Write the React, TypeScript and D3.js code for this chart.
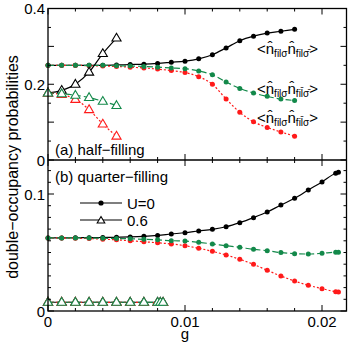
import React from "react";
import * as d3 from "d3";

// g values for the U=0 curves (filled circles)
const gTop = [0, 0.001, 0.002, 0.003, 0.004, 0.005, 0.006, 0.007, 0.008, 0.009, 0.01, 0.011, 0.012, 0.013, 0.014, 0.015, 0.016, 0.017, 0.018];
const topBlack = [0.25, 0.25, 0.25, 0.25, 0.25, 0.251, 0.252, 0.253, 0.255, 0.258, 0.261, 0.267, 0.278, 0.296, 0.315, 0.327, 0.335, 0.34, 0.345];
const topGreen = [0.25, 0.25, 0.25, 0.25, 0.25, 0.249, 0.248, 0.247, 0.245, 0.243, 0.241, 0.235, 0.225, 0.206, 0.189, 0.177, 0.168, 0.161, 0.157];
const topRed = [0.25, 0.25, 0.25, 0.249, 0.248, 0.247, 0.245, 0.243, 0.24, 0.236, 0.231, 0.22, 0.2, 0.161, 0.126, 0.101, 0.086, 0.074, 0.063];

// U=0.6 (open triangles), half filling
const gTopTri = [0, 0.001, 0.002, 0.003, 0.004, 0.005];
const topTriBlack = [0.177, 0.184, 0.2, 0.232, 0.281, 0.322];
const topTriGreen = [0.177, 0.175, 0.171, 0.165, 0.155, 0.144];
const topTriRed = [0.177, 0.173, 0.16, 0.133, 0.095, 0.063];

// quarter filling
const gBot = [0, 0.001, 0.002, 0.003, 0.004, 0.005, 0.006, 0.007, 0.008, 0.009, 0.01, 0.011, 0.012, 0.013, 0.014, 0.015, 0.016, 0.017, 0.018, 0.019, 0.02, 0.021, 0.0212];
const botBlack = [0.0625, 0.0625, 0.0626, 0.0627, 0.0628, 0.063, 0.0633, 0.0638, 0.0646, 0.0658, 0.0669, 0.0684, 0.0698, 0.072, 0.0755, 0.0798, 0.0846, 0.0906, 0.0963, 0.1034, 0.1103, 0.1177, 0.1185];
const botGreen = [0.0625, 0.0625, 0.0625, 0.0624, 0.0622, 0.062, 0.0617, 0.0613, 0.0608, 0.0601, 0.0598, 0.0587, 0.0573, 0.0558, 0.0544, 0.0527, 0.0516, 0.0499, 0.049, 0.0487, 0.0493, 0.0502, 0.0502];
const botRed = [0.0625, 0.0624, 0.0622, 0.0619, 0.0614, 0.0608, 0.06, 0.0592, 0.0583, 0.0573, 0.0558, 0.0536, 0.051, 0.0479, 0.0442, 0.0399, 0.0348, 0.0299, 0.0256, 0.022, 0.0191, 0.0165, 0.0162];

const gBotTri = [0, 0.001, 0.002, 0.003, 0.004, 0.005, 0.006, 0.007, 0.008, 0.0082, 0.0084];
const botTriBlack = [0.0075, 0.0075, 0.0075, 0.0075, 0.0075, 0.0075, 0.0075, 0.0075, 0.0075, 0.0075, 0.0075];
const botTriGreen = [0.0075, 0.0075, 0.0075, 0.0075, 0.0075, 0.0075, 0.0075, 0.0075, 0.0074, 0.0074, 0.0074];
const botTriRed = [0.0075, 0.0075, 0.0075, 0.0074, 0.0074, 0.0074, 0.0073, 0.0073, 0.0072, 0.0072, 0.0072];

const topYTicks = [0, 0.2, 0.4];
const botYTicks = [0, 0.1];
const xTicks = [0, 0.01, 0.02];

const BLACK = "#000";
const GREEN = "#13894a";
const RED = "#ff1a1a";
const FONT = "'Liberation Sans', Arial, sans-serif";

const L = 48, R = 346.5, T = 8.5, MID = 160, B = 311;

const x = d3.scaleLinear().domain([0, 0.01]).range([L, L + 137]);
const yTop = d3.scaleLinear().domain([0, 0.4]).range([MID, T]);
const yBot = d3.scaleLinear().domain([0, 0.1]).range([B, 194]);

const triPath = (cx: number, cy: number, s = 4.8) =>
  `M${cx},${cy - s}L${cx + s * 0.95},${cy + s * 0.62}L${cx - s * 0.95},${cy + s * 0.62}Z`;

type SeriesProps = {
  xs: number[];
  ys: number[];
  y: d3.ScaleLinear<number, number>;
  color: string;
  dash?: string;
  tri?: boolean;
};

const Series = ({ xs, ys, y, color, dash, tri }: SeriesProps) => {
  const pts: [number, number][] = xs.map((g, i) => [x(g), y(ys[i])]);
  const line = d3.line().curve(d3.curveMonotoneX)(pts) || "";
  return (
    <g>
      <path d={line} fill="none" stroke={color} strokeWidth={1.2} strokeDasharray={dash} />
      {pts.map(([px, py], i) =>
        tri ? (
          <path key={i} d={triPath(px, py)} fill="#fff" stroke={color} strokeWidth={1.1} />
        ) : (
          <circle key={i} cx={px} cy={py} r={2.5} fill={color} />
        )
      )}
    </g>
  );
};

const Label = ({ px, py, sub1, sub2 }: { px: number; py: number; sub1: string; sub2: string }) => (
  <text x={px} y={py} fontFamily={FONT} fontSize={15} fill="#000">
    <tspan>&lt;n̂</tspan>
    <tspan fontSize={10} dy={3}>{sub1}</tspan>
    <tspan dy={-3}>n̂</tspan>
    <tspan fontSize={10} dy={3}>{sub2}</tspan>
    <tspan dy={-3}>&gt;</tspan>
  </text>
);

export default function App() {
  const minorX = d3.range(0, 0.0219, 0.002);
  const minorYTop = d3.range(0, 0.401, 0.05);
  const minorYBot = d3.range(0, 0.129, 0.01);
  const tick = { stroke: "#000", strokeWidth: 1 };

  return (
    <svg width={353} height={344} style={{ position: "absolute", left: 0, top: 0 }}>
      <rect width={353} height={344} fill="#fff" />

      {/* panel (a) */}
      <Series xs={gTop} ys={topBlack} y={yTop} color={BLACK} />
      <Series xs={gTop} ys={topRed} y={yTop} color={RED} dash="2,2" />
      <Series xs={gTop} ys={topGreen} y={yTop} color={GREEN} dash="6,3" />
      <Series xs={gTopTri} ys={topTriBlack} y={yTop} color={BLACK} tri />
      <Series xs={gTopTri} ys={topTriRed} y={yTop} color={RED} dash="2,2" tri />
      <Series xs={gTopTri} ys={topTriGreen} y={yTop} color={GREEN} dash="6,3" tri />

      {/* panel (b) */}
      <Series xs={gBot} ys={botBlack} y={yBot} color={BLACK} />
      <Series xs={gBot} ys={botRed} y={yBot} color={RED} dash="2,2" />
      <Series xs={gBot} ys={botGreen} y={yBot} color={GREEN} dash="6,3" />
      <Series xs={gBotTri} ys={botTriBlack} y={yBot} color={BLACK} tri />
      <Series xs={gBotTri} ys={botTriRed} y={yBot} color={RED} dash="2,2" tri />
      <Series xs={gBotTri} ys={botTriGreen} y={yBot} color={GREEN} dash="6,3" tri />

      {/* frames */}
      <rect x={L} y={T} width={R - L} height={B - T} fill="none" stroke="#000" strokeWidth={1.3} />
      <line x1={L} x2={R} y1={MID} y2={MID} stroke="#000" strokeWidth={1.3} />

      {/* x ticks */}
      {minorX.map((g, i) => {
        const major = i % 5 === 0;
        const len = major ? 6 : 3;
        const px = x(g);
        return (
          <g key={i}>
            <line x1={px} x2={px} y1={T} y2={T + len} {...tick} />
            <line x1={px} x2={px} y1={MID} y2={MID - len} {...tick} />
            <line x1={px} x2={px} y1={MID} y2={MID + len} {...tick} />
            <line x1={px} x2={px} y1={B} y2={B - len} {...tick} />
          </g>
        );
      })}
      {/* y ticks */}
      {minorYTop.map((v, i) => {
        const len = i % 2 === 0 ? 6 : 3;
        const py = yTop(v);
        return (
          <g key={"t" + i}>
            <line x1={L} x2={L + len} y1={py} y2={py} {...tick} />
            <line x1={R} x2={R - len} y1={py} y2={py} {...tick} />
          </g>
        );
      })}
      {minorYBot.map((v, i) => {
        const len = i % 10 === 0 ? 6 : 3;
        const py = yBot(v);
        return (
          <g key={"b" + i}>
            <line x1={L} x2={L + len} y1={py} y2={py} {...tick} />
            <line x1={R} x2={R - len} y1={py} y2={py} {...tick} />
          </g>
        );
      })}

      {/* tick labels */}
      <g fontFamily={FONT} fontSize={15} fill="#000">
        {topYTicks.map((v) => (
          <text key={"ty" + v} x={L - 3} y={yTop(v) + 5.5} textAnchor="end">{v === 0 ? "0" : v.toString()}</text>
        ))}
        {botYTicks.map((v) => (
          <text key={"by" + v} x={L - 3} y={yBot(v) + 5.5} textAnchor="end">{v === 0 ? "0" : v.toString()}</text>
        ))}
        {xTicks.map((v) => (
          <text key={"x" + v} x={x(v)} y={B + 16} textAnchor="middle">{v === 0 ? "0" : v.toString()}</text>
        ))}
        <text x={x(0.01)} y={B + 28} textAnchor="middle">g</text>
        <text transform={`translate(18,167) rotate(-90)`} textAnchor="middle" fontSize={16}>double−occupancy probabilities</text>
        <text x={55} y={155}>(a) half−filling</text>
        <text x={55} y={182}>(b) quarter−filling</text>
      </g>

      {/* legend */}
      <g fontFamily={FONT} fontSize={15}>
        <line x1={80} x2={122} y1={203} y2={203} stroke="#000" strokeWidth={1.2} />
        <circle cx={101} cy={203} r={2.6} fill="#000" />
        <text x={127} y={208.5}>U=0</text>
        <line x1={80} x2={122} y1={220} y2={220} stroke="#000" strokeWidth={1.2} />
        <path d={triPath(101, 220.5, 4)} fill="#fff" stroke="#000" strokeWidth={1.1} />
        <text x={127} y={225.5}>0.6</text>
      </g>

      {/* curve labels */}
      <Label px={257} py={54} sub1="filσ" sub2="filσ̄" />
      <Label px={257} py={94} sub1="filσ" sub2="fil̄σ̄" />
      <Label px={257} py={123} sub1="filσ" sub2="fil̄σ" />
    </svg>
  );
}
